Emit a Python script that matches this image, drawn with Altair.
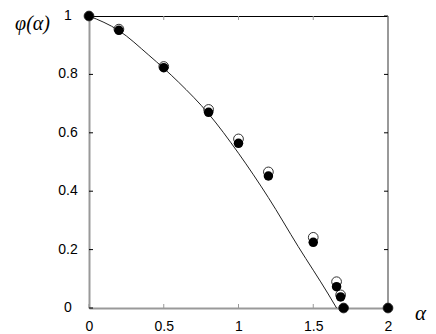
import altair as alt
import pandas as pd

# measured points (filled and open circles)
alpha_pts = [0.0, 0.2, 0.5, 0.8, 1.0, 1.2, 1.5, 1.656, 1.683, 1.703, 2.0]
phi_filled = [1.0, 0.951, 0.823, 0.670, 0.564, 0.452, 0.225, 0.073, 0.038, 0.0, 0.0]
phi_open = [1.0, 0.955, 0.827, 0.680, 0.579, 0.466, 0.242, 0.090, 0.045, 0.0, 0.0]

# curve
curve_alpha = [0.0, 0.2, 0.4, 0.6, 0.8, 1.0, 1.2, 1.4, 1.6, 1.656]
curve_phi = [1.0, 0.950, 0.866, 0.773, 0.665, 0.530, 0.378, 0.210, 0.048, 0.0]

x_ticks = [0, 0.5, 1, 1.5, 2]
y_ticks = [0, 0.2, 0.4, 0.6, 0.8, 1]

W, H = 299, 292

pts = pd.DataFrame({"a": alpha_pts, "f": phi_filled, "o": phi_open})
curve = pd.DataFrame({"a": curve_alpha, "p": curve_phi})
xt = pd.DataFrame({"v": x_ticks})
yt = pd.DataFrame({"v": y_ticks})

xs = alt.Scale(domain=[0, 2], nice=False, zero=False)
ys = alt.Scale(domain=[0, 1], nice=False, zero=False)

xaxis = alt.Axis(values=x_ticks, format="~g", ticks=False, grid=False,
                 domain=True, domainColor="#999999", domainWidth=2,
                 labelFont="Liberation Sans", labelFontSize=14, labelColor="#000000",
                 labelPadding=11, labelFlush=False,
                 title="α", titleFont="Liberation Serif", titleFontStyle="italic",
                 titleFontWeight="normal", titleFontSize=21, titleAngle=0,
                 titleX=331, titleY=5, titleAlign="center", titleBaseline="middle")
yaxis = alt.Axis(values=y_ticks, ticks=False, grid=False, labels=False,
                 domain=True, domainColor="#999999", domainWidth=2,
                 title="φ(α)", titleFont="Liberation Serif", titleFontStyle="italic",
                 titleFontWeight="normal", titleFontSize=20, titleAngle=0,
                 titleX=-57, titleY=7, titleAlign="center", titleBaseline="middle")

base_axes = alt.Chart(pts).mark_point(opacity=0).encode(
    x=alt.X("a:Q", scale=xs, axis=xaxis),
    y=alt.Y("f:Q", scale=ys, axis=yaxis),
)

ylabels = alt.Chart(yt).mark_text(font="Liberation Sans", fontSize=14, color="#000000",
                                  align="center", baseline="middle").encode(
    y=alt.Y("v:Q", scale=ys), x=alt.value(-21), text=alt.Text("v:Q", format="~g"))

top_border = alt.Chart(pts).mark_rule(color="#000000", strokeWidth=1, yOffset=0.5).encode(
    x=alt.datum(0, scale=xs), x2=alt.datum(2), y=alt.datum(1, scale=ys))
right_border = alt.Chart(pts).mark_rule(color="#999999", strokeWidth=2).encode(
    x=alt.datum(2, scale=xs), y=alt.datum(0, scale=ys), y2=alt.datum(1))

bt = alt.Chart(xt).mark_rule(color="#999999", strokeWidth=1).encode(
    x=alt.X("v:Q", scale=xs), y=alt.value(H), y2=alt.value(H - 4))
tt = alt.Chart(xt).mark_rule(color="#999999", strokeWidth=1).encode(
    x=alt.X("v:Q", scale=xs), y=alt.value(0), y2=alt.value(4))
lt = alt.Chart(yt).mark_rule(color="#000000", strokeWidth=1).encode(
    y=alt.Y("v:Q", scale=ys), x=alt.value(0), x2=alt.value(4))
rt = alt.Chart(yt).mark_rule(color="#000000", strokeWidth=1).encode(
    y=alt.Y("v:Q", scale=ys), x=alt.value(W), x2=alt.value(W - 4))

line = alt.Chart(curve).mark_line(color="#222222", strokeWidth=1, interpolate="monotone").encode(
    x=alt.X("a:Q", scale=xs), y=alt.Y("p:Q", scale=ys))

open_c = alt.Chart(pts).mark_point(shape="circle", filled=False, stroke="#333333",
                                   strokeWidth=1, size=95, opacity=1).encode(
    x=alt.X("a:Q", scale=xs), y=alt.Y("o:Q", scale=ys))
filled_c = alt.Chart(pts).mark_circle(color="#000000", size=90, opacity=1).encode(
    x=alt.X("a:Q", scale=xs), y=alt.Y("f:Q", scale=ys))

chart = alt.layer(base_axes, ylabels, top_border, right_border, bt, tt, lt, rt, line,
                  open_c, filled_c).properties(
    width=W, height=H,
    autosize=alt.AutoSizeParams(type="none"),
    padding={"left": 81, "top": 8, "right": 40, "bottom": 26},
).configure_view(stroke=None).configure(background="white")

chart.save("out.html", embed_options={"renderer": "svg", "actions": False})
